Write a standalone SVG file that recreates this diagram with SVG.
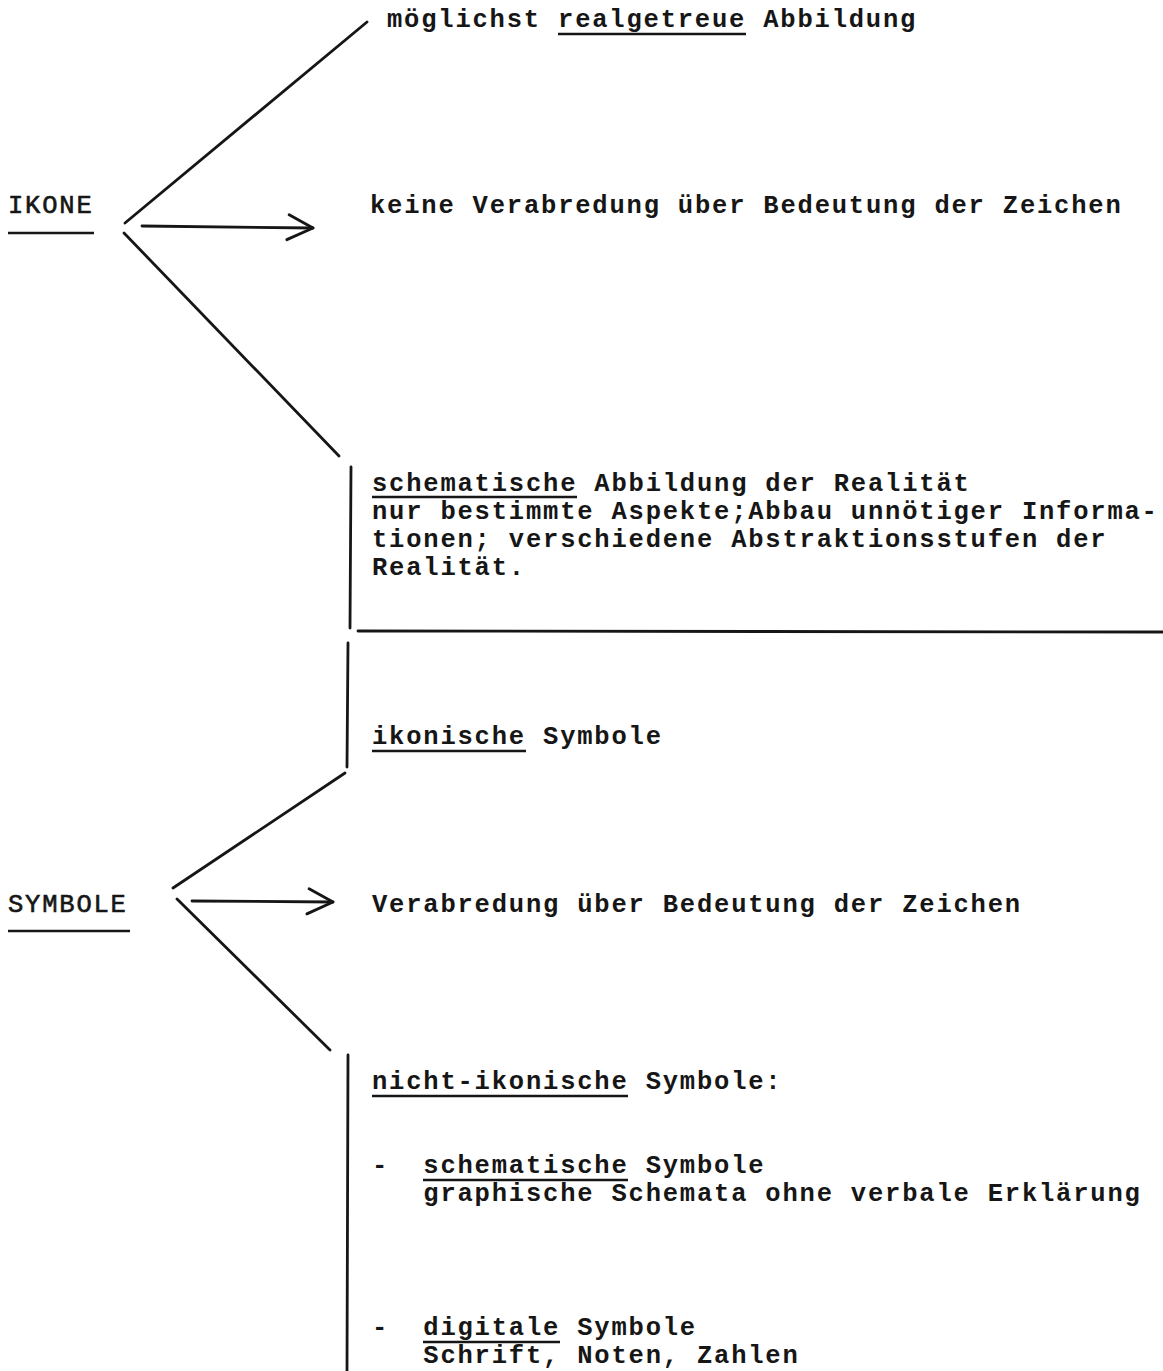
<svg xmlns="http://www.w3.org/2000/svg" width="1163" height="1371" viewBox="0 0 1163 1371">
<style>
text{font-family:"Liberation Mono","Courier New",monospace;font-size:25.5px;letter-spacing:1.8px;fill:#161616;font-weight:bold;white-space:pre}
text.hd{font-weight:normal;stroke:#161616;stroke-width:0.6}
.ln{stroke:#161616;stroke-width:2.8;fill:none;stroke-linecap:round}
.ul{stroke:#161616;stroke-width:2.6;fill:none}
</style>
<defs>
<marker id="chev" markerUnits="userSpaceOnUse" viewBox="-30 -16 34 32" refX="0" refY="0" markerWidth="34" markerHeight="32" orient="auto">
<path d="M-24,-13 L0,0 L-26,12" fill="none" stroke="#161616" stroke-width="2.9" stroke-linecap="round" stroke-linejoin="round"/>
</marker>
</defs>
<rect width="1163" height="1371" fill="#ffffff"/>

<g id="connectors">
<line class="ln" x1="125" y1="223" x2="367" y2="22"/>
<line class="ln" x1="142" y1="226" x2="313" y2="228" marker-end="url(#chev)"/>
<line class="ln" x1="124" y1="233" x2="339" y2="456"/>
<line class="ln" x1="351" y1="467" x2="350" y2="628"/>
<line class="ln" x1="358" y1="631" x2="1163" y2="632"/>
<line class="ln" x1="348" y1="643" x2="347" y2="767"/>
<line class="ln" x1="345" y1="773" x2="173" y2="888"/>
<line class="ln" x1="192" y1="901" x2="333" y2="902" marker-end="url(#chev)"/>
<line class="ln" x1="177" y1="899" x2="330" y2="1050"/>
<line class="ln" x1="348" y1="1055" x2="347" y2="1371"/>
</g>

<g id="ikone">
<text class="hd" x="8" y="213">IKONE</text>
<line class="ul" x1="8" y1="233" x2="94" y2="233"/>
</g>

<g id="symbole">
<text class="hd" x="8" y="912">SYMBOLE</text>
<line class="ul" x1="8" y1="931" x2="130" y2="931"/>
</g>

<g id="realgetreu">
<text x="387" y="27">möglichst realgetreue Abbildung</text>
<line class="ul" x1="558" y1="34" x2="746" y2="34"/>
</g>

<g id="keine-verabredung">
<text x="370" y="213">keine Verabredung über Bedeutung der Zeichen</text>
</g>

<g id="schematisch">
<text x="372" y="491">schematische Abbildung der Realität</text>
<line class="ul" x1="372" y1="497" x2="577" y2="497"/>
<text x="372" y="519">nur bestimmte Aspekte;Abbau unnötiger Informa-</text>
<text x="372" y="547">tionen; verschiedene Abstraktionsstufen der</text>
<text x="372" y="575">Realität.</text>
</g>

<g id="ikonisch">
<text x="372" y="744">ikonische Symbole</text>
<line class="ul" x1="372" y1="751" x2="526" y2="751"/>
</g>

<g id="verabredung">
<text x="372" y="912">Verabredung über Bedeutung der Zeichen</text>
</g>

<g id="nicht-ikonisch">
<text x="372" y="1089">nicht-ikonische Symbole:</text>
<line class="ul" x1="372" y1="1096" x2="628" y2="1096"/>
<text x="372" y="1173">-  schematische Symbole</text>
<line class="ul" x1="423" y1="1180" x2="628" y2="1180"/>
<text x="372" y="1201">   graphische Schemata ohne verbale Erklärung</text>
<text x="372" y="1335">-  digitale Symbole</text>
<line class="ul" x1="423" y1="1342" x2="560" y2="1342"/>
<text x="372" y="1363">   Schrift, Noten, Zahlen</text>
</g>
</svg>
